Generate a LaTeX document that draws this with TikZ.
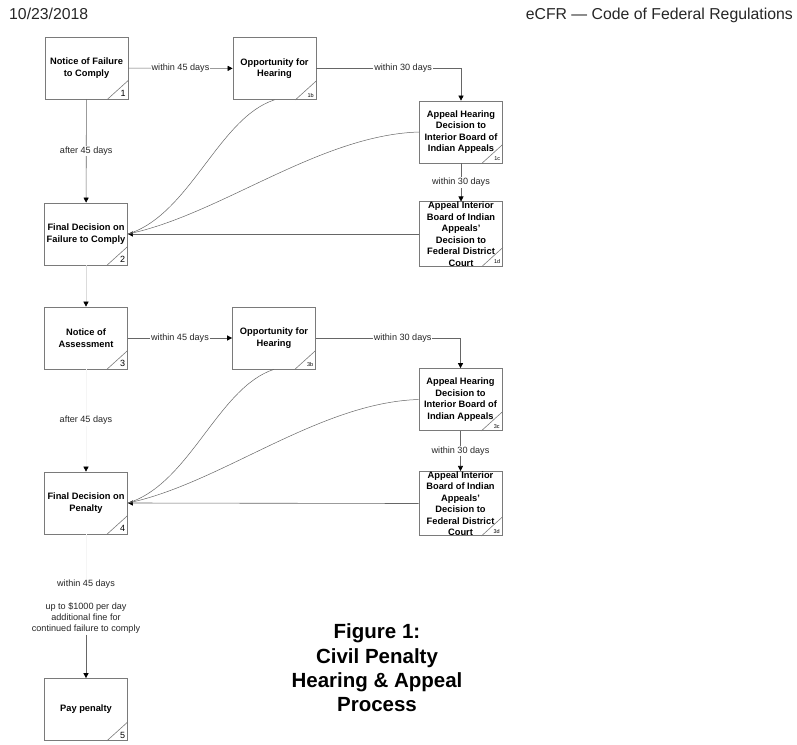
\documentclass[tikz,border=0pt]{standalone}
\usepackage{fontspec}
\setmainfont{Liberation Sans}
\usetikzlibrary{arrows.meta}
\definecolor{boxgray}{HTML}{7A7A7A}
\definecolor{conngray}{HTML}{666666}
\tikzset{
  pbox/.style={draw=boxgray, line width=0.7pt, minimum width=83pt, minimum height=62pt,
    inner sep=0pt, align=center, font=\fontsize{9.3}{11.5}\selectfont\bfseries},
  boxline/.style={draw=boxgray, line width=0.6pt},
  tipblack/.style={-{Triangle[width=5pt,length=5pt,color=black]}},
  conn/.style={draw=conngray, line width=0.6pt, tipblack},
  faint/.style={draw=black!14, line width=0.6pt, tipblack},
  faintest/.style={draw=black!4, line width=0.6pt, tipblack},
  curvy/.style={draw=conngray, line width=0.5pt},
  lbl/.style={fill=white, inner sep=1pt, font=\fontsize{9.1}{11.3}\selectfont, align=center, text=black!85},
  bignum/.style={font=\fontsize{9}{10}\selectfont, anchor=south east, inner sep=0pt},
  smallnum/.style={font=\fontsize{5.5}{6}\selectfont, anchor=south east, inner sep=0pt},
  hdr/.style={font=\fontsize{15.8}{18}\selectfont, inner sep=0pt, text=black!85},
  title/.style={font=\fontsize{20.5}{24.3}\selectfont\bfseries, align=center, inner sep=0pt}
}
\newcommand\boxcorner[3]{%
  \draw[boxline] ([yshift=19pt]#1.south east) -- ([xshift=-21pt]#1.south east);
  \node[#3] (#1num) at ([xshift=-2.5pt,yshift=2.5pt]#1.south east) {#2};}
\begin{document}
\begin{tikzpicture}[x=1pt,y=-1pt]
\useasboundingbox (0,0) rectangle (797,744);
% header
\node[hdr, anchor=base west] (date) at (9,19.5) {10/23/2018};
\node[hdr, anchor=base east] (src) at (793,19.5) {eCFR — Code of Federal Regulations};
% boxes, first block
\node[pbox] (b1)  at (86.5,68)   {Notice of Failure\\to Comply};
\node[pbox] (b1b) at (274.5,68.5) {Opportunity for\\Hearing};
\node[pbox] (b1c) at (461,132)   {Appeal Hearing\\Decision to\\Interior Board of\\Indian Appeals};
\node[pbox] (b1d) at (461,234)   {Appeal Interior\\Board of Indian\\Appeals'\\Decision to\\Federal District\\Court};
\node[pbox] (b2)  at (86,234)    {Final Decision on\\Failure to Comply};
% boxes, second block
\node[pbox] (b3)  at (86,338)    {Notice of\\Assessment};
\node[pbox] (b3b) at (274,338)   {Opportunity for\\Hearing};
\node[pbox] (b3c) at (460.5,399.5) {Appeal Hearing\\Decision to\\Interior Board of\\Indian Appeals};
\node[pbox] (b3d) at (460.5,503.5) {Appeal Interior\\Board of Indian\\Appeals'\\Decision to\\Federal District\\Court};
\node[pbox] (b4)  at (86,503)    {Final Decision on\\Penalty};
\node[pbox] (b5)  at (86,709.5)  {Pay penalty};
% corners
\boxcorner{b1}{1}{bignum}
\boxcorner{b1b}{1b}{smallnum}
\boxcorner{b1c}{1c}{smallnum}
\boxcorner{b1d}{1d}{smallnum}
\boxcorner{b2}{2}{bignum}
\boxcorner{b3}{3}{bignum}
\boxcorner{b3b}{3b}{smallnum}
\boxcorner{b3c}{3c}{smallnum}
\boxcorner{b3d}{3d}{smallnum}
\boxcorner{b4}{4}{bignum}
\boxcorner{b5}{5}{bignum}
% connectors, first block
\draw[conn] (b1) -- node[lbl] (l1) {within 45 days} (b1b);
\draw[conn] (b1b.east) -| node[lbl, pos=0.3] (l2) {within 30 days} (b1c.north);
\draw[conn] (b1) -- node[lbl] (l3) {after 45 days} (b2);
\draw[conn] (b1c) -- node[lbl] (l4) {within 30 days} (b1d);
\draw[conn] (b1d.west) -- (b2.east);
\draw[curvy] (b1b.south) .. controls +(-56,18) and +(62,-19) .. (b2.east);
\draw[curvy] (b1c.west) .. controls +(-100,3) and +(92,-19) .. (b2.east);
% between blocks
\draw[faint] (b2) -- (b3);
% connectors, second block
\draw[conn] (b3) -- node[lbl] (l5) {within 45 days} (b3b);
\draw[conn] (b3b.east) -| node[lbl, pos=0.3] (l6) {within 30 days} (b3c.north);
\draw[faintest] (b3) -- node[lbl] (l7) {after 45 days} (b4);
\draw[conn] (b3c) -- node[lbl] (l8) {within 30 days} (b3d);
\draw[conn] (b3d.west) -- (b4.east);
\draw[curvy] (b3b.south) .. controls +(-56,18) and +(62,-19) .. (b4.east);
\draw[curvy] (b3c.west) .. controls +(-100,3) and +(92,-19) .. (b4.east);
% to pay penalty
\node[lbl] (l9) at (86,584) {within 45 days};
\node[lbl] (l10) at (86,618) {up to \$1000 per day\\additional fine for\\continued failure to comply};
\draw[draw=black!4, line width=0.6pt] (b4) -- (l9);
\draw[conn] (l10) -- (b5);
% title
\node[title] (ttl) at (377,668) {Figure 1:\\Civil Penalty\\Hearing \& Appeal\\Process};
\end{tikzpicture}
\end{document}
